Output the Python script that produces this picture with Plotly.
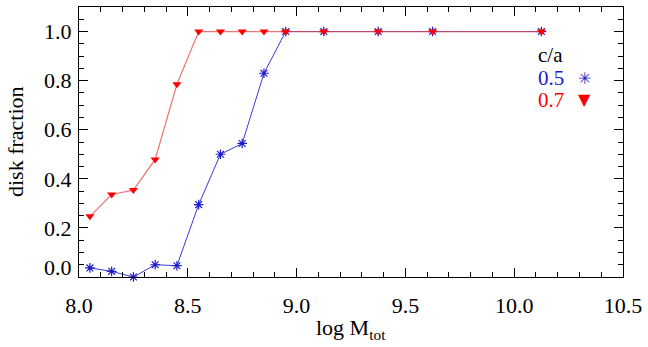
import plotly.graph_objects as go

# log M_tot bins
log_mass = [8.05, 8.15, 8.25, 8.35, 8.45, 8.55, 8.65, 8.75, 8.85, 8.95,
            9.125, 9.375, 9.625, 10.125]

# disk fraction for c/a = 0.5 and c/a = 0.7
frac_05 = [0.037, 0.023, 0.0, 0.05, 0.046, 0.295, 0.50, 0.544, 0.83, 1.0,
           1.0, 1.0, 1.0, 1.0]
frac_07 = [0.247, 0.336, 0.354, 0.479, 0.785, 1.0, 1.0, 1.0, 1.0, 1.0,
           1.0, 1.0, 1.0, 1.0]

x_ticks = [8.0, 8.5, 9.0, 9.5, 10.0, 10.5]
y_ticks = [0.0, 0.2, 0.4, 0.6, 0.8, 1.0]

_SERIF = "Liberation Serif"
_FONT = dict(family=_SERIF, size=22, color="black")
_BLUE = "#1a1acc"
_RED = "#ff0000"

fig = go.Figure()
fig.add_trace(go.Scatter(
    x=log_mass, y=frac_05, mode="lines+markers",
    line=dict(color="#3a3ad8", width=1),
    marker=dict(symbol="asterisk-open", size=8, color=_BLUE,
                line=dict(color=_BLUE, width=1.2)),
    name="0.5", showlegend=False, cliponaxis=False,
))
fig.add_trace(go.Scatter(
    x=log_mass, y=frac_07, mode="lines+markers",
    line=dict(color="rgba(232,70,70,0.75)", width=1.2),
    marker=dict(symbol="triangle-down", size=8, color=_RED),
    name="0.7", showlegend=False, cliponaxis=False,
))

axis_common = dict(
    showline=True, linecolor="black", linewidth=1, mirror="allticks",
    ticks="inside", ticklen=9, tickwidth=1, tickcolor="black",
    showgrid=False, zeroline=False, tickfont=_FONT, automargin=False,
    ticklabeloverflow="allow",
)

fig.update_layout(
    width=648, height=347,
    paper_bgcolor="white", plot_bgcolor="white",
    margin=dict(l=79, r=25, t=7, b=70),
    font=_FONT,
    xaxis=dict(
        range=[8.0, 10.5], tickvals=x_ticks,
        ticktext=[f"{v:.1f}" for v in x_ticks],
        minor=dict(dtick=0.1, ticks="inside", ticklen=5, tickcolor="black"),
        ticklabelstandoff=9,
        **axis_common,
    ),
    yaxis=dict(
        range=[0.0, 1.1], tickvals=y_ticks,
        ticktext=[""] + [f"{v:.1f}" for v in y_ticks[1:]],
        minor=dict(dtick=0.05, ticks="inside", ticklen=5, tickcolor="black"),
        ticklabelstandoff=2,
        **axis_common,
    ),
)

# axis titles placed by hand to match the original spacing
fig.add_annotation(x=0.5, xref="paper", y=0, yref="paper", text="log M<sub>tot</sub>",
                   showarrow=False, xanchor="center", yanchor="top",
                   yshift=-36, font=_FONT)
fig.add_annotation(x=0, xref="paper", y=0.5, yref="paper", text="disk fraction",
                   showarrow=False, xanchor="center", yanchor="middle", textangle=-90,
                   xshift=-64, font=_FONT)

# "0.0" label sits a bit above the bottom axis in the original
fig.add_annotation(x=0, xref="paper", y=0, yref="y", text="0.0",
                   showarrow=False, xanchor="right", yanchor="middle",
                   xshift=-5, yshift=10, font=_FONT)

# hand-made key: text on the left, symbol on the right
key = [("c/a", "black", "", 0.822),
       ("0.5", "#1a1acc", "✳", 0.737),
       ("0.7", "#ff0000", "▼", 0.656)]
for label, colour, glyph, ypos in key:
    fig.add_annotation(x=0.84, xref="paper", y=ypos, yref="paper", text=label,
                       showarrow=False, xanchor="left", yanchor="middle",
                       font=dict(family=_SERIF, size=21, color=colour))
    if glyph:
        fig.add_annotation(x=0.93, xref="paper", y=ypos, yref="paper", text=glyph,
                           showarrow=False, xanchor="center", yanchor="middle",
                           font=dict(family="DejaVu Sans", size=16, color=colour))

# drop the default page margin so the figure sits at the window's corner
fig.write_html("out.html", config={"displayModeBar": False},
               post_script="document.body.style.margin='0';")
